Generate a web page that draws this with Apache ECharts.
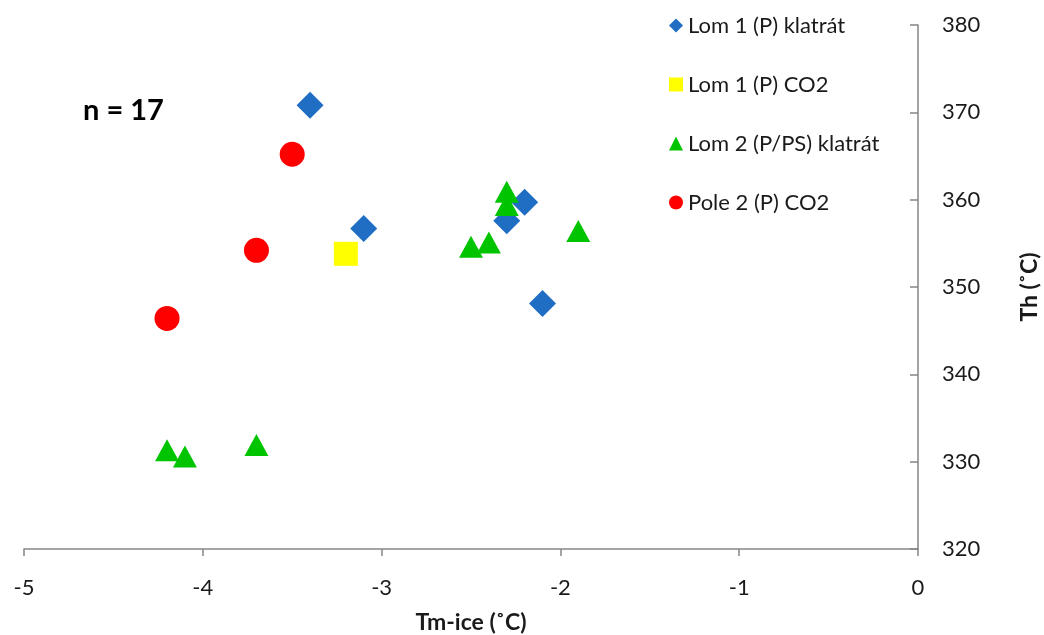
<!DOCTYPE html>
<html>
<head>
<meta charset="utf-8">
<script src="https://cdn.jsdelivr.net/npm/echarts@6/dist/echarts.min.js"></script>
<style>
  html, body { margin: 0; padding: 0; background: #fff; }
  #chart { width: 1044px; height: 635px; }
</style>
</head>
<body>
<div id="chart"></div>
<script>
// data: [Tm-ice, Th]
const lom1Klatrat = [[-3.4, 370.8], [-3.1, 356.7], [-2.3, 357.6], [-2.2, 359.7], [-2.1, 348.1]];
const lom1CO2 = [[-3.2, 353.8]];
const lom2Klatrat = [[-2.3, 360.9], [-2.3, 359.4], [-2.5, 354.6], [-2.4, 355.1], [-1.9, 356.4],
  [-4.2, 331.3], [-4.1, 330.6], [-3.7, 331.9]];
const pole2CO2 = [[-3.5, 365.2], [-3.7, 354.2], [-4.2, 346.4]];

const seriesNames = ['Lom 1 (P) klatrát', 'Lom 1 (P) CO2', 'Lom 2 (P/PS) klatrát', 'Pole 2 (P) CO2'];
const fontFamily = 'Lato, "Open Sans", sans-serif';
const axisGrey = '#868686';

const chart = echarts.init(document.getElementById('chart'));

chart.setOption({
  animation: false,
  textStyle: { fontFamily: fontFamily },
  grid: { left: 24, right: 126, top: 25, bottom: 86, containLabel: false, outerBoundsMode: 'none' },
  legend: {
    orient: 'vertical',
    left: 664,
    top: 9,
    itemWidth: 14,
    itemHeight: 14,
    itemGap: 36,
    textStyle: { fontSize: 22, color: '#1a1a1a', lineHeight: 23 },
    data: seriesNames
  },
  graphic: [{
    type: 'text',
    left: 83,
    top: 96,
    style: { text: 'n = 17', fontSize: 29, fontWeight: 'bold', fill: '#000', fontFamily: fontFamily }
  }],
  xAxis: {
    type: 'value',
    min: -5,
    max: 0,
    interval: 1,
    name: 'Tm-ice (˚C)',
    nameLocation: 'middle',
    nameGap: 62,
    nameTextStyle: { fontSize: 23, fontWeight: 'bold', color: '#1a1a1a' },
    axisLine: { onZero: false, lineStyle: { color: axisGrey, width: 1.5 } },
    axisTick: { length: 7, lineStyle: { color: axisGrey, width: 1.5 } },
    axisLabel: { fontSize: 22, color: '#1a1a1a', margin: 28 },
    splitLine: { show: false }
  },
  yAxis: {
    type: 'value',
    position: 'right',
    min: 320,
    max: 380,
    interval: 10,
    name: 'Th (˚C)',
    nameLocation: 'middle',
    nameRotate: 90,
    nameGap: 100,
    nameTextStyle: { fontSize: 23, fontWeight: 'bold', color: '#1a1a1a' },
    axisLine: { show: true, onZero: false, lineStyle: { color: axisGrey, width: 1.5 } },
    axisTick: { show: true, inside: true, length: 8, lineStyle: { color: axisGrey, width: 1.5 } },
    axisLabel: { fontSize: 22, color: '#1a1a1a', margin: 24 },
    splitLine: { show: false }
  },
  series: [
    {
      name: seriesNames[0], type: 'scatter', data: lom1Klatrat,
      symbol: 'diamond', symbolSize: [27, 27],
      itemStyle: { color: '#1f6ec4', opacity: 1 }
    },
    {
      name: seriesNames[1], type: 'scatter', data: lom1CO2,
      symbol: 'rect', symbolSize: 24,
      itemStyle: { color: '#ffff00', opacity: 1 }
    },
    {
      name: seriesNames[2], type: 'scatter', data: lom2Klatrat,
      symbol: 'triangle', symbolSize: [24, 22],
      itemStyle: { color: '#00c400', opacity: 1 }
    },
    {
      name: seriesNames[3], type: 'scatter', data: pole2CO2,
      symbol: 'circle', symbolSize: 25,
      itemStyle: { color: '#ff0000', opacity: 1 }
    }
  ]
});
</script>
</body>
</html>
